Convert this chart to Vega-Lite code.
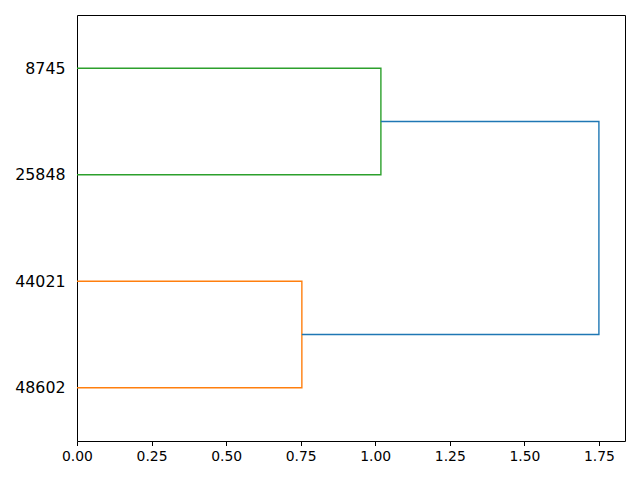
{
  "$schema": "https://vega.github.io/schema/vega-lite/v6.json",
  "width": 548,
  "height": 426,
  "autosize": {"type": "none"},
  "padding": {"left": 77, "top": 15, "right": 15, "bottom": 39},
  "background": "white",
  "config": {
    "view": {"stroke": "black", "strokeWidth": 1},
    "axis": {"grid": false, "domainColor": "black", "tickColor": "black", "labelColor": "black", "labelFont": "DejaVu Sans", "title": null}
  },
  "data": {
    "values": [
      {"link": "g", "order": 1, "d": 0, "pos": 35, "cluster": "C2"},
      {"link": "g", "order": 2, "d": 1.019, "pos": 35, "cluster": "C2"},
      {"link": "g", "order": 3, "d": 1.019, "pos": 25, "cluster": "C2"},
      {"link": "g", "order": 4, "d": 0, "pos": 25, "cluster": "C2"},
      {"link": "o", "order": 1, "d": 0, "pos": 15, "cluster": "C1"},
      {"link": "o", "order": 2, "d": 0.754, "pos": 15, "cluster": "C1"},
      {"link": "o", "order": 3, "d": 0.754, "pos": 5, "cluster": "C1"},
      {"link": "o", "order": 4, "d": 0, "pos": 5, "cluster": "C1"},
      {"link": "b", "order": 1, "d": 1.019, "pos": 30, "cluster": "C0"},
      {"link": "b", "order": 2, "d": 1.75, "pos": 30, "cluster": "C0"},
      {"link": "b", "order": 3, "d": 1.75, "pos": 10, "cluster": "C0"},
      {"link": "b", "order": 4, "d": 0.754, "pos": 10, "cluster": "C0"}
    ]
  },
  "mark": {"type": "line", "strokeWidth": 1.4, "clip": true},
  "encoding": {
    "x": {
      "field": "d", "type": "quantitative",
      "scale": {"domain": [0, 1.8375], "nice": false, "zero": false},
      "axis": {"values": [0, 0.25, 0.5, 0.75, 1, 1.25, 1.5, 1.75], "format": ".2f", "labelFontSize": 13.9, "tickSize": 4.5, "labelPadding": 4, "labelFlush": false, "labelOverlap": false, "domain": false}
    },
    "y": {
      "field": "pos", "type": "quantitative",
      "scale": {"domain": [0, 40], "nice": false, "zero": false},
      "axis": {"values": [5, 15, 25, 35], "labelExpr": "datum.value == 35 ? '8745' : datum.value == 25 ? '25848' : datum.value == 15 ? '44021' : '48602'", "labelFontSize": 15.8, "tickSize": 0, "labelPadding": 12, "domain": false}
    },
    "color": {
      "field": "cluster", "type": "nominal",
      "scale": {"domain": ["C0", "C1", "C2"], "range": ["#1f77b4", "#ff7f0e", "#2ca02c"]},
      "legend": null
    },
    "detail": {"field": "link"},
    "order": {"field": "order", "type": "quantitative"}
  }
}
